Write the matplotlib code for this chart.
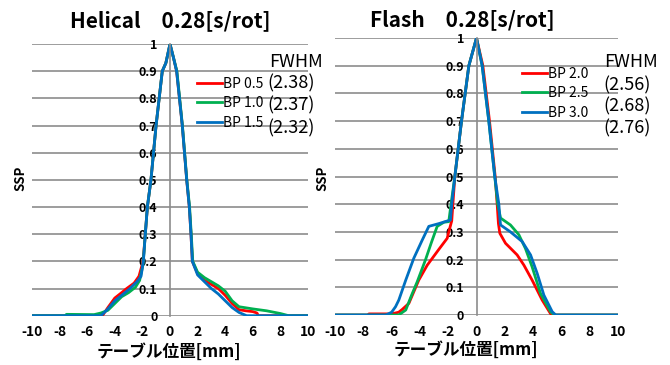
import matplotlib
matplotlib.use("Agg")
import matplotlib.pyplot as plt

plt.rcParams['font.family'] = ['Noto Sans CJK JP', 'DejaVu Sans']

# ---------------- data ----------------
helical_title = "Helical　0.28[s/rot]"
flash_title = "Flash　0.28[s/rot]"
xlabel = "テーブル位置[mm]"
ylabel = "SSP"

helical_labels = ["BP 0.5", "BP 1.0", "BP 1.5"]
helical_fwhm = ["(2.38)", "(2.37)", "(2.32)"]
flash_labels = ["BP 2.0", "BP 2.5", "BP 3.0"]
flash_fwhm = ["(2.56)", "(2.68)", "(2.76)"]

colors = ["#FF0000", "#00B050", "#0070C0"]

# Helical BP 0.5
h05_x = [-10, -4.9, -4.5, -4.0, -3.5, -3.14, -2.6, -2.25, -1.95, -1.79, -1.64, -1.38, -1.01, -0.56, -0.3, 0,
         0.25, 0.48, 0.89, 1.21, 1.40, 1.52, 1.62, 2.0, 2.5, 3.0, 3.5, 4.0, 4.5, 5.0, 5.5, 6.0, 6.3, 6.4, 10]
h05_y = [0, 0, 0.03, 0.065, 0.085, 0.1, 0.12, 0.145, 0.2, 0.3, 0.4, 0.5, 0.7, 0.9, 0.93, 1.0,
         0.95, 0.9, 0.7, 0.5, 0.4, 0.3, 0.2, 0.155, 0.13, 0.115, 0.1, 0.075, 0.045, 0.022, 0.018, 0.015, 0.01, 0, 0]
# Helical BP 1.0
h10_x = [-10, -7.6, -7.5, -5.5, -5.0, -4.5, -4.0, -3.5, -3.0, -2.5, -2.2, -1.95, -1.79, -1.64, -1.38, -1.01, -0.56, -0.3, 0,
         0.25, 0.5, 0.9, 1.22, 1.42, 1.54, 1.65, 2.0, 2.5, 3.0, 3.5, 4.0, 4.5, 5.0, 6.0, 7.0, 8.0, 8.6, 10]
h10_y = [0, 0, 0.005, 0.004, 0.01, 0.02, 0.045, 0.07, 0.085, 0.105, 0.13, 0.19, 0.3, 0.4, 0.5, 0.7, 0.9, 0.93, 1.0,
         0.95, 0.9, 0.7, 0.5, 0.4, 0.3, 0.2, 0.16, 0.14, 0.125, 0.11, 0.09, 0.055, 0.033, 0.025, 0.018, 0.008, 0, 0]
# Helical BP 1.5
h15_x = [-10, -5.0, -4.5, -4.0, -3.5, -2.9, -2.4, -2.1, -1.93, -1.79, -1.64, -1.38, -1.01, -0.56, -0.3, 0,
         0.25, 0.48, 0.89, 1.21, 1.40, 1.52, 1.62, 2.0, 2.5, 3.0, 3.5, 4.0, 4.5, 5.0, 5.55, 10]
h15_y = [0, 0, 0.025, 0.055, 0.075, 0.1, 0.125, 0.145, 0.2, 0.3, 0.4, 0.5, 0.7, 0.9, 0.93, 1.0,
         0.95, 0.9, 0.7, 0.5, 0.4, 0.3, 0.2, 0.15, 0.125, 0.1, 0.08, 0.055, 0.03, 0.012, 0, 0]

# Flash BP 2.0
f20_x = [-10, -7.7, -7.6, -6.0, -5.5, -5.25, -4.78, -4.08, -3.48, -2.66, -2.07, -1.96, -1.75, -1.67, -1.53, -1.06, -0.54, 0,
         0.45, 0.92, 1.32, 1.46, 1.55, 1.65, 2.05, 2.87, 3.35, 3.93, 4.64, 5.23, 5.4, 10]
f20_y = [0, 0, 0.004, 0.004, 0.01, 0.02, 0.042, 0.126, 0.18, 0.237, 0.277, 0.3, 0.34, 0.4, 0.5, 0.7, 0.9, 1.0,
         0.9, 0.7, 0.5, 0.4, 0.33, 0.295, 0.259, 0.217, 0.18, 0.126, 0.054, 0.005, 0, 0]
# Flash BP 2.5
f25_x = [-10, -5.5, -5.0, -4.6, -4.19, -3.6, -3.2, -2.78, -2.3, -1.96, -1.8, -1.53, -1.06, -0.54, 0,
         0.4, 0.87, 1.29, 1.5, 1.7, 2.4, 2.99, 3.46, 3.93, 4.52, 5.23, 5.5, 10]
f25_y = [0, 0, 0.018, 0.07, 0.12, 0.2, 0.26, 0.32, 0.335, 0.337, 0.4, 0.5, 0.7, 0.9, 1.0,
         0.9, 0.7, 0.5, 0.4, 0.35, 0.325, 0.29, 0.24, 0.174, 0.078, 0.012, 0, 0]
# Flash BP 3.0
f30_x = [-10, -6.4, -6.0, -5.72, -5.49, -5.0, -4.43, -3.84, -3.37, -2.66, -1.84, -1.75, -1.53, -1.06, -0.54, 0,
         0.4, 0.87, 1.29, 1.58, 1.65, 1.7, 2.4, 3.23, 3.82, 4.29, 4.76, 5.35, 5.6, 10]
f30_y = [0, 0, 0.01, 0.03, 0.054, 0.126, 0.205, 0.27, 0.32, 0.33, 0.343, 0.4, 0.5, 0.7, 0.9, 1.0,
         0.9, 0.7, 0.5, 0.4, 0.35, 0.325, 0.3, 0.265, 0.217, 0.15, 0.072, 0.012, 0, 0]

x_ticks = [-10, -8, -6, -4, -2, 0, 2, 4, 6, 8, 10]
y_ticks = [0, 0.1, 0.2, 0.3, 0.4, 0.5, 0.6, 0.7, 0.8, 0.9, 1]
y_ticklabels = ["0", "0.1", "0.2", "0.3", "0.4", "0.5", "0.6", "0.7", "0.8", "0.9", "1"]

# ---------------- figure ----------------
fig = plt.figure(figsize=(6.7, 3.65), dpi=100)
W, H = 670, 365

def px_axes(x0, x1, ytop, ybot):
    return [x0 / W, (H - ybot) / H, (x1 - x0) / W, (ybot - ytop) / H]

ax1 = fig.add_axes(px_axes(32, 308, 44, 315.7))
ax2 = fig.add_axes(px_axes(335, 618, 38, 315))

grid_c = "#8C8C8C"

def style(ax):
    ax.set_xlim(-10, 10)
    ax.set_ylim(0, 1)
    ax.set_xticks(x_ticks)
    ax.set_xticklabels([str(t) for t in x_ticks])
    ax.set_yticks(y_ticks)
    ax.set_yticklabels(y_ticklabels)
    for s in ["top", "right", "bottom"]:
        ax.spines[s].set_visible(False)
    ax.spines["left"].set_position(("data", 0))
    ax.spines["left"].set_color(grid_c)
    ax.spines["left"].set_linewidth(1.2)
    ax.grid(axis="y", color=grid_c, linewidth=1.2)
    ax.set_axisbelow(True)
    ax.tick_params(axis="both", length=0)
    ax.tick_params(axis="x", pad=7, labelsize=10)
    ax.tick_params(axis="y", pad=9, labelsize=9)
    for lab in ax.get_xticklabels() + ax.get_yticklabels():
        lab.set_fontweight("bold")
    ax.set_facecolor("none")

style(ax1)
style(ax2)

lw = 2.0
for xs, ys, c, lab in zip([h05_x, h10_x, h15_x], [h05_y, h10_y, h15_y], colors, helical_labels):
    ax1.plot(xs, ys, color=c, linewidth=lw, label=lab, solid_joinstyle="round")
for xs, ys, c, lab in zip([f20_x, f25_x, f30_x], [f20_y, f25_y, f30_y], colors, flash_labels):
    ax2.plot(xs, ys, color=c, linewidth=lw, label=lab, solid_joinstyle="round")

# titles
fig.text(170 / W, 1 - 21 / H, helical_title, ha="center", va="center", fontsize=15, fontweight="bold")
fig.text(462 / W, 1 - 20 / H, flash_title, ha="center", va="center", fontsize=15, fontweight="bold")

# axis labels
fig.text(169 / W, 1 - 352 / H, xlabel, ha="center", va="center", fontsize=12, fontweight="bold")
fig.text(466 / W, 1 - 350 / H, xlabel, ha="center", va="center", fontsize=12, fontweight="bold")
fig.text(20 / W, 1 - 178 / H, ylabel, ha="center", va="center", rotation=90, fontsize=9.5, fontweight="bold")
fig.text(322 / W, 1 - 178 / H, ylabel, ha="center", va="center", rotation=90, fontsize=9.5, fontweight="bold")

# legends
leg1 = ax1.legend(loc="upper left", bbox_to_anchor=(197 / W, 1 - 77 / H), bbox_transform=fig.transFigure,
                  frameon=False, fontsize=10, handlelength=1.8, handletextpad=0.1, labelspacing=0.38,
                  borderaxespad=0, borderpad=0)
leg2 = ax2.legend(loc="upper left", bbox_to_anchor=(522 / W, 1 - 67 / H), bbox_transform=fig.transFigure,
                  frameon=False, fontsize=10, handlelength=1.8, handletextpad=0.1, labelspacing=0.38,
                  borderaxespad=0, borderpad=0)

# FWHM annotations
fig.text(296 / W, 1 - 62 / H, "FWHM", ha="center", va="center", fontsize=13)
for i, t in enumerate(helical_fwhm):
    fig.text(291 / W, 1 - (83 + 22.5 * i) / H, t, ha="center", va="center", fontsize=13)
fig.text(631 / W, 1 - 62 / H, "FWHM", ha="center", va="center", fontsize=13)
for i, t in enumerate(flash_fwhm):
    fig.text(627 / W, 1 - (85 + 21.5 * i) / H, t, ha="center", va="center", fontsize=13)

fig.savefig("out.png", dpi=100)
